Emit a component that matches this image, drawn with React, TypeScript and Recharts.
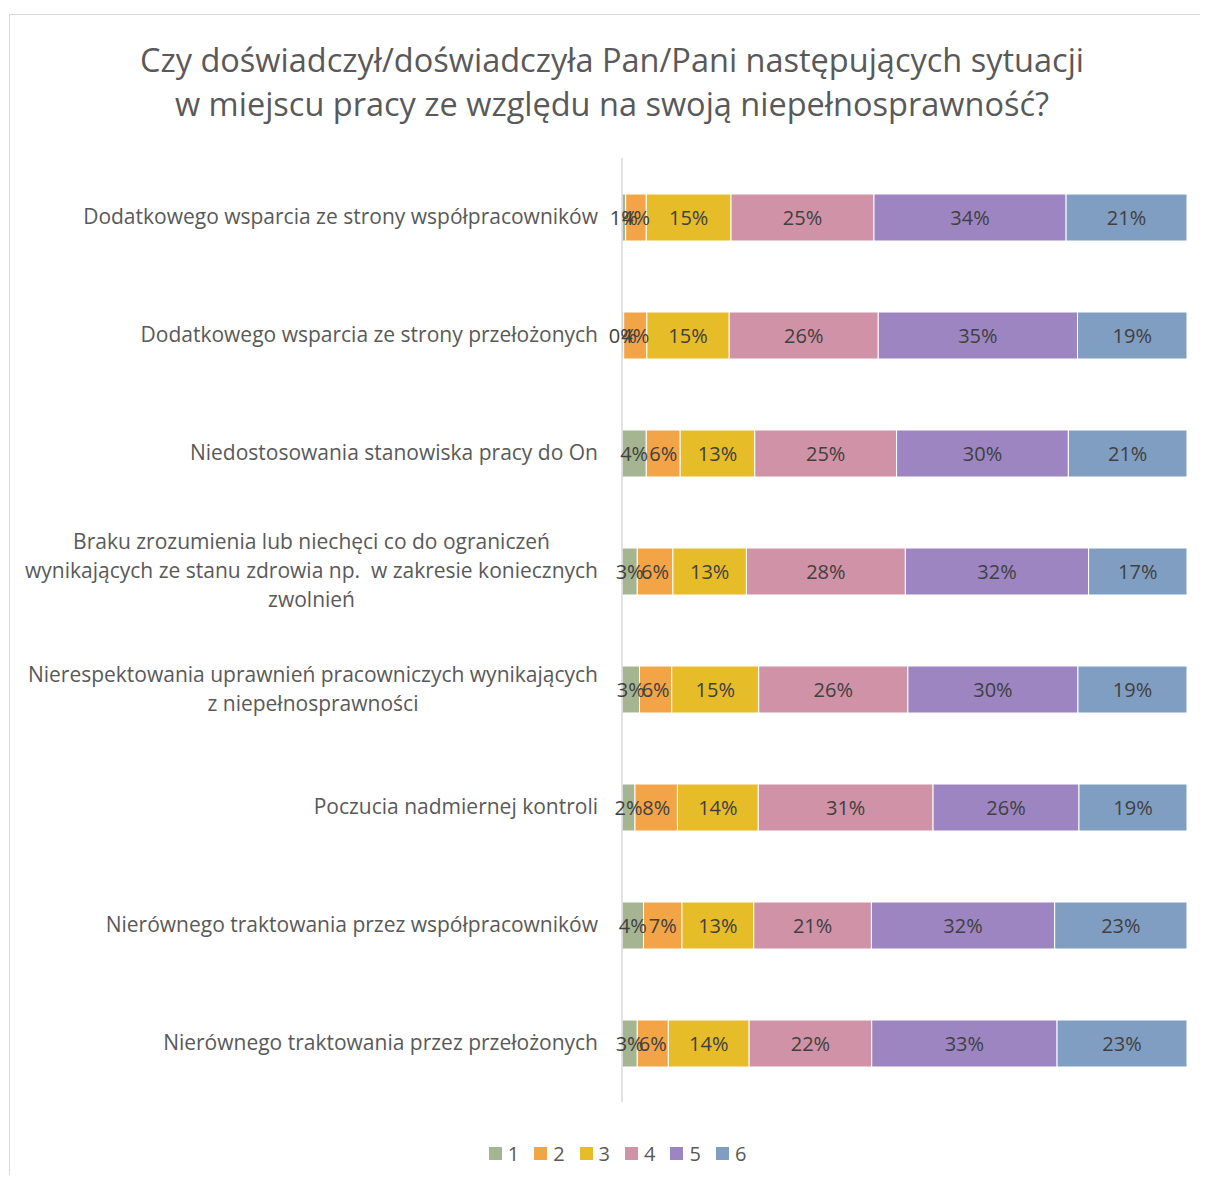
import { BarChart, Bar, XAxis, YAxis, LabelList, Legend } from 'recharts'

const categories = [
  'Dodatkowego wsparcia ze strony współpracowników',
  'Dodatkowego wsparcia ze strony przełożonych',
  'Niedostosowania stanowiska pracy do On',
  'Braku zrozumienia lub niechęci co do ograniczeń\nwynikających ze stanu zdrowia np.  w zakresie koniecznych\nzwolnień',
  'Nierespektowania uprawnień pracowniczych wynikających\nz niepełnosprawności',
  'Poczucia nadmiernej kontroli',
  'Nierównego traktowania przez współpracowników',
  'Nierównego traktowania przez przełożonych',
]

const seriesNames = ['1', '2', '3', '4', '5', '6']
const seriesColors = ['#A5B592', '#F3A447', '#E7BC29', '#D092A7', '#9C85C0', '#809EC2']

const s1 = [0.65, 0.3, 4.3, 2.7, 3.1, 2.3, 3.8, 2.7]
const s2 = [3.65, 4.1, 6.0, 6.3, 5.7, 7.5, 6.8, 5.5]
const s3 = [15.0, 14.6, 13.2, 13.0, 15.4, 14.3, 12.7, 14.3]
const s4 = [25.3, 26.4, 25.1, 28.1, 26.4, 30.9, 20.8, 21.7]
const s5 = [34.0, 35.3, 30.4, 32.4, 30.1, 25.8, 32.4, 32.8]
const s6 = [21.4, 19.4, 21.0, 17.4, 19.3, 19.1, 23.4, 23.0]

const allSeries = [s1, s2, s3, s4, s5, s6]

const data = categories.map((name, i) => {
  const row: any = { name }
  seriesNames.forEach((s, k) => {
    row[s] = allSeries[k][i]
  })
  return row
})

const FONT = '"Open Sans", sans-serif'
const TICK_SIZE = 21

let ctx: CanvasRenderingContext2D | null = null
const measure = (text: string) => {
  if (!ctx) ctx = document.createElement('canvas').getContext('2d')
  if (!ctx) return text.length * 10
  ctx.font = `${TICK_SIZE}px "Open Sans"`
  return ctx.measureText(text).width
}

// category labels, multi-line ones centred on their widest line
const CategoryTick = (props: any) => {
  const { x, y, payload } = props
  const lines: string[] = String(payload.value).split('\n')
  const lineH = 29
  if (lines.length === 1) {
    return (
      <text x={x} y={y} dy="0.35em" textAnchor="end" fill="#595959" fontSize={TICK_SIZE} fontFamily={FONT} style={{ whiteSpace: 'pre' }}>
        {lines[0]}
      </text>
    )
  }
  const maxW = Math.max(...lines.map(measure))
  const cx = x - maxW / 2
  const start = y - ((lines.length - 1) * lineH) / 2
  return (
    <text textAnchor="middle" fill="#595959" fontSize={TICK_SIZE} fontFamily={FONT} style={{ whiteSpace: 'pre' }}>
      {lines.map((l, i) => (
        <tspan key={i} x={cx} y={start + i * lineH} dy="0.35em">
          {l}
        </tspan>
      ))}
    </text>
  )
}

const LegendContent = () => (
  <div style={{ display: 'flex', justifyContent: 'center', height: 24, alignItems: 'center', paddingLeft: 38, fontFamily: FONT, fontSize: 20, color: '#595959' }}>
    {seriesNames.map((s, i) => (
      <div key={s} style={{ display: 'flex', alignItems: 'center', marginRight: i < seriesNames.length - 1 ? 15 : 0 }}>
        <span style={{ width: 13, height: 13, background: seriesColors[i], display: 'inline-block', marginRight: 6 }} />
        <span>{s}</span>
      </div>
    ))}
  </div>
)

export default function App() {
  return (
    <div style={{ position: 'relative', marginTop: 6, marginLeft: 1, width: 1198, height: 1160, borderTop: '1px solid #d9d9d9', borderLeft: '1px solid #d9d9d9', background: '#fff' }}>
      <div style={{ position: 'absolute', top: 23, left: 0, width: 1198, paddingLeft: 6, boxSizing: 'border-box', textAlign: 'center', fontFamily: FONT, fontSize: 32.5, lineHeight: '44px', color: '#595959' }}>
        Czy doświadczył/doświadczyła Pan/Pani następujących sytuacji
        <br />
        w miejscu pracy ze względu na swoją niepełnosprawność?
      </div>
      <BarChart
        width={1198}
        height={1160}
        data={data}
        layout="vertical"
        stackOffset="expand"
        margin={{ top: 143, right: 21, bottom: 49, left: 0 }}
      >
        <XAxis type="number" hide domain={[0, 1]} />
        <YAxis
          type="category"
          dataKey="name"
          width={612}
          axisLine={{ stroke: '#d9d9d9', strokeWidth: 1.5 }}
          tickLine={false}
          tickSize={0}
          tickMargin={24}
          interval={0}
          tick={<CategoryTick />}
        />
        <Legend content={<LegendContent />} verticalAlign="bottom" wrapperStyle={{ bottom: 10 }} />
        {seriesNames.map((s, i) => (
          <Bar key={s} dataKey={s} stackId="a" fill={seriesColors[i]} stroke="#ffffff" strokeWidth={1} barSize={47} isAnimationActive={false}>
            <LabelList
              dataKey={s}
              position="center"
              fill="#404040"
              fontSize={20}
              fontFamily={FONT}
              formatter={(v: any) => `${Math.round(Number(v))}%`}
            />
          </Bar>
        ))}
      </BarChart>
    </div>
  )
}
